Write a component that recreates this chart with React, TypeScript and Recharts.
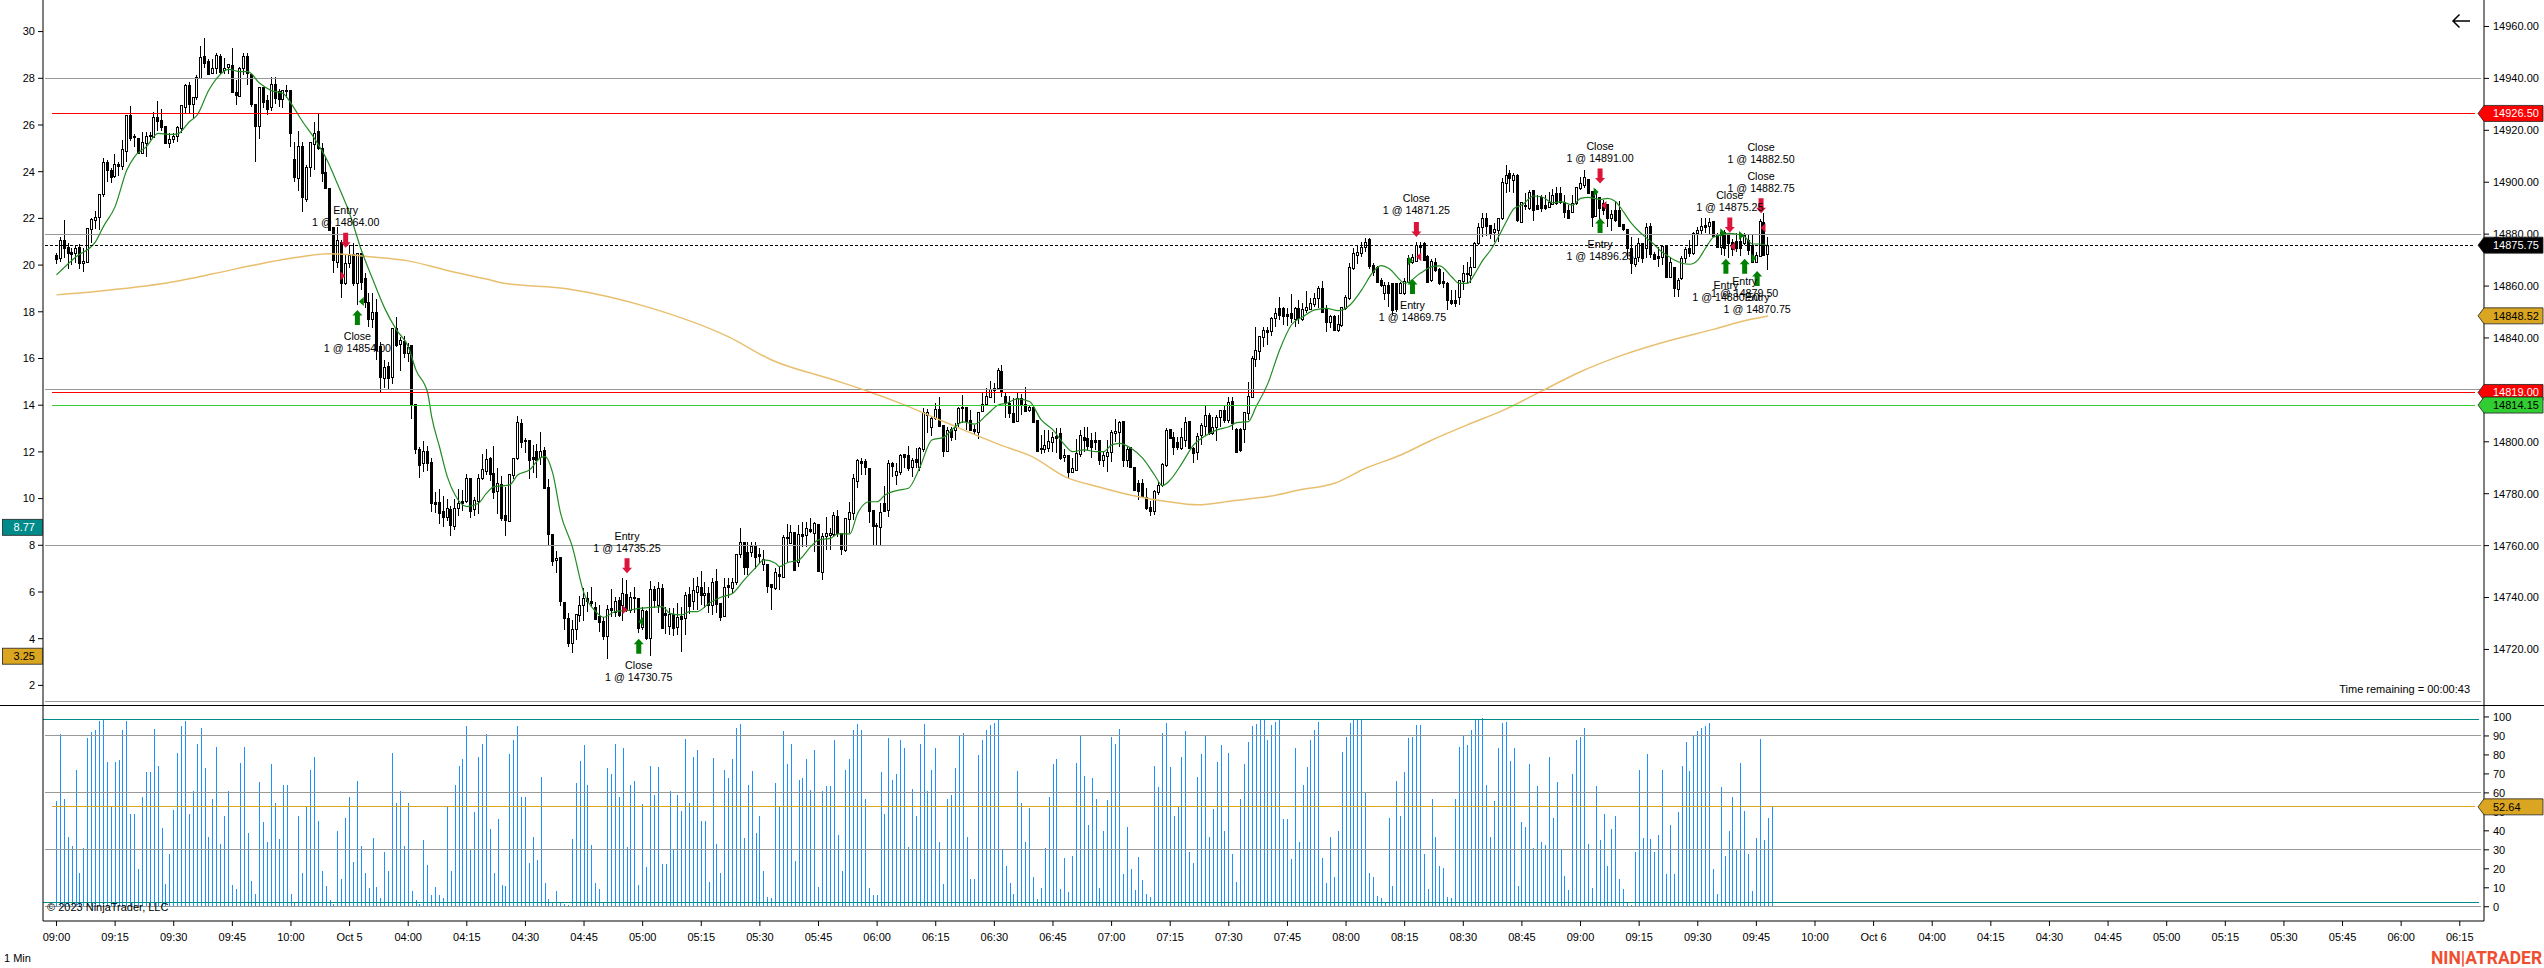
import { Bar, ComposedChart, Line, ReferenceDot, ReferenceLine, XAxis, YAxis } from "recharts";

const FONT = '"Liberation Sans", Arial, sans-serif';
const BASE_PRICE = 14700;
const BAR_DOMAIN = [-3.454, 621.2];
const PRICE_DOMAIN = [14698.6, 14970.2];
const LEFT_DOMAIN = [1.16, 31.353];
const OSC_DOMAIN = [-7.5, 106.3];

// one tuple per minute: open, high, low, close, in points above BASE_PRICE
const ohlc = [
  [171.8,172.6,168.5,170.3],[170.7,178.8,169.4,177.7],[177.7,185.5,170.7,174.5],[174.9,176.7,166.5,172.9],[173.3,174.5,168.1,172.4],
  [172.9,175.8,168.8,174.8],[175.2,176.2,166.5,168.8],[169,174.5,165.6,169.5],[169.4,182.2,168.8,182.2],[181.9,186.1,176.7,185.7],
  [185.5,189.1,181.9,186.7],[186.7,195.3,181.6,195.3],[195.3,209.2,194.2,207.7],[207.9,208.6,200.2,204.7],[204.7,205.4,199.8,202.1],
  [202.5,210.9,201.8,207],[207,207.9,202.5,206.4],[206.4,216.3,204.7,212.8],[212.2,225.9,207.9,225.9],[225.9,229.4,216,216.9],
  [217.8,218.5,213.7,217.3],[216.9,216.9,210.9,211.1],[211.4,219.2,210.9,215.6],[215.2,219.5,209.9,217.9],[218.2,219.2,216.3,217.8],
  [217.3,227.2,216.9,225.3],[225.3,231.3,219.9,223.7],[224,228.2,219.9,221.4],[221.7,221.7,214.7,215.2],[215.2,219.1,213.3,216.5],
  [216.5,218.8,215,217.8],[217.8,221.7,215.6,221.2],[220.8,229.6,219.1,229.6],[229.1,237.8,226.5,237.4],[237.4,238.5,226.5,230.1],
  [230.1,233,224.6,232.7],[232.9,241.2,231.7,240.4],[240,252.5,239.8,248.1],[248.6,255.6,243.9,246.1],[246.7,247.3,241.7,241.7],
  [241.9,247.3,241.7,243.9],[243.9,249.6,241.7,249],[248.6,249.4,241.7,242.6],[243.2,247.7,241.7,244.1],[244.5,245.4,241.7,245.4],
  [245,251.7,234.9,234.9],[234.6,239.4,229.8,233.6],[233.3,244.5,233,244.1],[244.1,249.9,241.3,248.6],[248.6,249.9,237.5,242],
  [241.7,241.7,228.9,230.1],[230.1,230.1,207.9,221.7],[221.8,236.6,216.7,236.6],[236.6,236.6,228.5,231],[231.7,233.6,225.9,228.2],
  [229,240.4,227.4,237.8],[238,240.4,230,232.3],[235.3,235.8,228.9,232],[232,235.5,228.7,235.5],[235.5,237.4,232.3,235.2],
  [235.5,235.5,213.7,219.1],[208.8,215.6,200.2,202.1],[201.8,219.7,196.8,214],[214,215.6,188.7,194.2],[193.5,206.6,192.5,205.7],
  [205.7,215.4,202.1,215.4],[214.7,223.3,204.7,219.1],[219.7,226.5,212.4,213],[213,215,200.2,203.7],[203.8,210.1,197.3,197.7],
  [197.9,197.9,181.6,181.6],[182.9,182.9,165.2,170],[169.1,182.9,167.1,177.8],[177.1,177.8,155.3,161],[161,172,160.4,168.8],
  [169,175.8,166.8,172],[172.4,176.4,160,161.3],[161.3,172.6,152.7,172.6],[172.6,172.6,158.5,161.7],[163,164.9,151.4,154],
  [154,157.2,144.4,147.2],[147.2,157.2,143.7,150.1],[149.9,155,131.5,135.4],[136.8,138.5,119.3,124.8],[124.4,131.5,120.8,128.7],
  [129.2,130.6,120.3,124.4],[124.8,143.7,122.3,143.7],[143.7,147.9,136.7,137.3],[137.6,140.5,127.4,139.2],[139,140.8,132.2,134.1],
  [134.1,138,130.6,136.7],[137.2,137.2,108.9,114.4],[114.4,114.4,95.3,97.1],[97.3,97.9,85.9,91],[91.7,100.3,88.5,96.4],
  [96.4,98.4,88.9,91.7],[92.1,93.6,73.1,76.3],[76.7,80.5,72.7,76.2],[76.7,81.8,68.3,72.7],[73.3,79.1,67.3,70.9],
  [70.9,77.8,69.6,74.4],[74.1,75.3,63.8,67.9],[67.7,77.8,66,74.4],[74.4,81.7,71.5,76.3],[77.2,81.4,73.3,76.5],
  [77.2,87.6,76.5,85.9],[85.9,85.9,70.8,73.5],[74,78.9,71.5,77.6],[77.3,87.6,72.1,85.9],[86.2,95.3,85.3,89.4],
  [88.9,97.2,87.2,93.2],[93.6,94,85,87.5],[87.8,98.4,78,80.8],[81.2,89.8,72.2,84],
  [83.7,86.8,69.6,70.5],[71.8,82.7,63.8,69.9],[69.6,87.5,69,87.5],[87.2,93.9,85.5,93.9],[93.6,109.9,93,107.7],
  [107.1,108.6,97.5,100],[100.7,101.3,95.5,100.3],[100.7,100.7,85.5,93],[94.3,98.8,87.8,93.4],[96.6,99.1,85.9,93],
  [94.3,103.8,91,96.6],[96.8,98.1,82.1,82.1],[82.5,85.5,60.2,64.3],[64.5,64.5,52.3,54.1],[54.5,57.9,49.3,55.1],
  [55.5,55.5,36.7,38.7],[38.4,38.4,27.5,32],[32,34.2,21.1,22.4],[22.6,31.3,18.5,27.8],[27.8,33.5,23.6,33.5],
  [33.3,40.6,30.7,37.1],[37.1,43.5,31.1,39.7],[39.7,42.3,34.6,38.8],[38.8,44.2,36.5,38],[36.2,38.4,31.7,31.7],
  [32.9,37.1,26.9,30.7],[31,32.6,23.6,25.2],[25.2,37.1,16.3,35.5],[35.8,43.2,32.6,35.2],[34.6,40.1,32.6,38.8],
  [39,40.1,32.6,33.3],[37.1,47.4,31,41.6],[41.2,46.8,34.6,35.2],[35.2,42.3,33.9,40.1],[39.7,44.2,33.9,40.3],
  [39.7,39.7,26.2,28.1],[28.8,36.5,27.5,35.2],[35,35.2,23.6,24.3],[24.3,46.5,17.5,43.2],[43.2,44.4,35.8,39],
  [37.1,46.1,33.9,43.5],[43.5,45.2,28.4,28.4],[33.9,36.5,25.9,33.3],[29,35.8,25.6,33.7],[33.7,35.8,25.2,28.1],
  [28.5,37.8,25.6,32.6],[32.9,36.5,19.1,31.6],[32,42.3,25.6,41],[41.4,44.2,33.7,36.9],[38.8,47.4,35.2,42.9],
  [42.3,48,35.2,44.3],[43.9,50.4,37.1,41],[41,46,36,41.8],[41.6,44.2,33.9,37.1],[37.1,47.4,33.3,46.1],
  [46.4,50.9,33.9,37.5],[37.8,38,31.1,32.6],[32.9,47.4,32.6,44.2],[44.7,47.4,40,44],[43.5,47.4,41.6,46.1],
  [46.1,56.6,44.8,56.6],[56.6,66.9,55.1,61.5],[61.5,61.5,48.7,51.9],[57.7,61.5,48.7,51.9],[57.7,61.5,55.7,59.9],
  [59.9,61.5,50.9,55.5],[56.6,58.9,52.9,56.1],[52.9,58.3,50.4,54.7],[52.9,52.9,41.9,44.4],[45.2,45.2,35.2,43.9],
  [43.5,51.3,42.9,50],[49.1,51.9,42.9,48.3],[48,64.1,47.4,63.2],[63.2,68.3,53.8,62.8],[61.1,67.9,60.9,65.1],
  [65.1,65.1,50.4,50.6],[53.8,67.9,51.9,64.5],[64.5,69.2,59.6,63.8],[64.1,69.2,59.6,66.7],[66.4,70.5,64.7,65.8],
  [65,69.2,57.7,68.6],[68.3,68.3,50.4,50.4],[50,64.7,46.8,63.8],[63.8,71.2,58.3,64.7],[64.1,66.7,58.3,64.7],
  [64.5,73.1,63.4,71.8],[71.4,73.7,63.4,64.7],[64.7,64.7,56.4,58.6],[58.3,70.5,57.7,70.5],[70.1,76.9,64.7,73.1],
  [72.7,87.6,69.9,85.9],[85,93.5,82.1,93],[92.7,93.6,87.2,91.9],[92.6,93.2,87.2,90.2],[89.8,89.8,68.6,73.3],
  [73.7,73.7,60,67.7],[67.9,68.6,60,67.4],[67.3,76.3,60.2,73.1],[76.3,83.1,73.3,73.3],[73.7,93,71.2,91.7],
  [91.7,92.3,86.6,90.7],[87.2,91.7,83.4,88.7],[88.5,95.2,87.2,94.9],[95.2,95.2,89.8,94.3],[94.9,98.4,88.9,90],
  [90.2,93.6,86.6,93],[93.2,97.5,89.8,92.3],[90.2,97.9,88.7,97.5],[97.1,112.9,96.2,111.6],[110.3,112.5,103.3,111.6],
  [105.8,109.7,102.2,109],[109,115,108.4,112.5],[112.5,117.1,106.1,106.1],[106.5,106.5,94.3,96.6],[96.6,105.8,96.2,104.5],
  [104.8,105.8,100.4,101.9],[104.5,107.1,100.7,105.8],[107.1,113.5,105.8,112.9],[113.5,118,107.1,112.9],[113.3,113.3,104.5,108.1],
  [108.4,112.2,104.5,104.5],[104.9,106.5,102.6,104.3],[103.9,111.6,100.9,111.6],[111.9,118.7,111.9,114.4],[114.4,120.6,114.4,117.8],
  [117.4,123.5,116.7,120.2],[120.6,122.5,114.8,119.9],[120.6,128.3,119.9,127.6],
  [127.3,129.6,117.4,119.1],[117.7,119.3,109.1,115.1],[114.8,117.7,109.1,111],[111,116.8,107.5,107.5],[108.2,118.7,107.8,116.8],
  [116.8,118.4,110.3,114.6],[114.6,121,112,112],[112.3,114.2,111.6,113.3],[113.5,113.5,107.4,107.8],[108.4,108.4,96.2,96.5],
  [97.8,102.6,95.3,97.3],[97.2,104.6,95.8,98.8],[97.8,104.6,96.2,100.3],[100.1,103.9,96.2,102],[102.3,105.2,95.6,101.6],
  [103.3,105.2,92.8,93.9],[94,97.1,92.4,95],[95,95,85.6,88.5],[88.5,93.6,87.9,89.8],[89.2,101,88.9,95.6],
  [95.3,104.6,94.3,102.6],[101.7,105.8,96.2,100.5],[101.4,105.8,96.9,98.4],[100.7,103.3,93.7,98.1],[100.7,103.9,96.9,100.1],
  [100.5,100.5,91.1,92.8],[92.8,96.2,90.4,95],[94.7,100.5,88.5,96.2],[96.2,104.6,92.4,103.9],[103.5,108.7,100.1,104.2],
  [103.9,108.2,98.1,107.5],[108,108,90.4,93],[92.8,98.1,90.4,97.2],[98.1,98.1,89.8,90.2],[90.2,90.4,81.2,81.5],
  [84,85.3,77.6,81.2],[84,85.6,78.2,79.1],[78.9,82.1,73.7,74.4],[75,77,71.4,73.5],[73.5,81.5,71.8,81.2],
  [80.8,84.7,79.5,83.4],[83.4,91.7,82.7,91.5],[91.1,105.2,90.4,104.6],[104.8,104.8,101,101.4],[102,103.9,95,97.9],
  [100.1,102,96.9,97.9],[97.5,105.2,96.9,101.7],[100.7,109.4,98.1,107.8],[108,108,97.5,97.5],[97.5,98.1,91.7,95.6],
  [96.2,103.3,93,102.4],[102.6,107.1,98.8,106.5],[106.2,114.2,102.4,110.3],[110.3,110.9,102.6,103.5],[103.3,109.7,102.6,105.6],
  [105.6,110.3,100.4,109.7],[109.7,112.3,105.8,112.3],[112.3,114.2,107.1,108.4],[108.4,117.2,107.1,115.5],[115.7,117.4,104.6,107.1],
  [104.9,105.2,95.8,96.2],[104.9,105.2,96.2,96.9],[104.8,111.4,99.4,111.4],[111,123.2,108.4,117.8],[117.4,133.1,116.8,132.4],
  [131.8,144.1,128.9,135.4],[135.1,140.8,131.5,140.8],[140.3,144.1,136.4,143.1],[143.1,144.1,137.1,142.2],[142.8,148,140.8,147.6],
  [147.6,151.4,144.1,149.8],[151.4,155.9,147,148.9],[151.4,151.8,145,148.6],[149.1,151.4,144.6,148.6],[149.5,156.9,145.7,147.6],
  [147.3,152,144.1,151.4],[151.4,154.6,145.4,147.6],[147.2,153.4,146.7,151],[150.8,158.2,149.5,152.1],[151,155.3,150.8,153.6],
  [153.1,157.2,152.1,155.5],[155.3,160,151.4,159.1],[159.4,161.9,150.1,150.1],[151.4,152.7,142.4,146],[146,148.9,143.7,148.5],
  [148.5,148.9,142.7,143.1],[143.1,148.9,142.4,145.4],[145,152.1,144.4,152.1],[151.4,156.6,150.8,155.9],[155.3,169,154.6,167.2],
  [166.8,174.5,166.2,172.6],[172,175.8,168.5,173.3],[172.6,177,171.3,175],[175,178.5,173,177],[178,178.5,166.7,167.7],
  [168,169,164,165.5],[167.5,167.7,161,161.7],[162.3,163,159.8,160.4],[157.5,161.7,154.6,160.4],[160.4,161.7,152.1,157.5],
  [161.3,161.3,148.9,150.8],[161,161.3,150,151],[157.5,161.7,157.2,161],[157.5,163,156.6,162],[161.7,171.9,161,170.7],
  [169.4,172.4,168.5,171.3],[169.8,177.1,169.4,175.8],[176,177.1,172,175.2],[176.4,177.1,169.8,170],[171.6,171.9,161.3,161.7],
  [162.3,170.5,161.7,169.6],[169.4,170.8,165.5,166.2],[166.4,167,160.5,161],[161.9,165.5,159.1,161],[161.3,161.7,150.8,154.6],
  [154.6,158.5,152.7,153.6],[154.6,158.5,152,153.3],[155.9,162.3,152.7,162.3],[162.1,168.1,158.5,164.9],[164.9,169.4,161,164.5],
  [164.2,171,161,167.5],[167.5,177.1,166.8,176.7],[176.4,184.2,175.8,182.9],[182.9,188,178.8,186.1],[186.1,188,179.3,183.1],
  [183.5,183.5,178,180.3],[180.9,184.2,177.1,182],[181.6,186.1,177.1,186.1],[186.1,201.7,185.4,200.2],[199.6,206.6,196,202.8],
  [203.4,204.7,196.3,201.5],[200.8,203.4,195.7,202.8],[202.8,203,184.8,185.4],[184.8,192.5,184.4,192.5],[190.8,195.7,189.3,191.2],
  [189.9,197,189.3,196.3],[197,197,185.2,189.3],[191.2,195.1,189.3,189.5],[194.4,195.1,188.6,189.9],[191.2,195.1,189.3,189.9],
  [190.3,196.3,189.9,192.5],[191.8,197.2,191.2,195.1],[195.7,198.3,191.2,192.1],[195.7,198,191.6,192.5],[192.5,195.1,186.1,188.6],
  [189.3,191.2,185.7,186.1],[188.6,195.1,188,191.9],[191.9,198.3,191.2,198],[197.6,202.1,197,199.6],[198.9,204.7,197.6,201.9],
  [201.1,201.1,195.7,196],[196.7,196.7,182.9,186.7],[187,197.2,186.5,195.7],[194.4,194.4,183.9,189.9],[191.9,193.1,187.4,189.3],
  [191.6,191.6,182.9,186.1],[186.1,189.3,181.3,187.6],[189.3,192.8,184.8,185.4],[189.3,192.8,182.6,183.3],[183.8,183.8,181.3,182],
  [182,182,170.3,174.5],[174.5,179,164.6,168.7],[168.5,175.8,167.5,170.9],[171.3,178.4,169.4,176.4],[176.4,176.4,168.7,170.7],
  [174.5,184.2,170.7,182.9],[183.1,184.2,170.7,172.3],[172.3,173.3,170,170.3],[171.6,175.2,167.5,170.7],[171.3,175.8,168.1,175.4],
  [175.8,175.8,163.6,163.6],[163.6,171.3,163,169.4],[167.5,167.5,155.6,159.2],[158.9,163,155.6,162.4],[163,171.4,162.4,170.7],
  [170.7,175.2,168.8,174.3],[174.6,177.8,171.1,172.9],[172.9,181,172,180.3],[180.6,182.9,175.9,181.6],[181.6,186.1,179.7,183.2],
  [183.6,186.1,180.3,182.9],[183.2,186.1,179.7,184.8],[185.1,185.1,179.1,179.1],[179.7,180.3,174.6,175.2],[175.2,181.6,172,181],
  [181,181.6,171.4,174.6],[179.7,180.3,170.7,176.5],[177.1,178,171.5,174.2],[177.5,180.3,173.3,174.6],[177.5,180.3,171.4,174.6],
  [176.5,180.3,175.9,179.7],[177.8,179.7,172,173.9],[175.9,179.7,168.8,169.4],[169.4,173.3,168.8,172],[171.6,185.7,171.4,185.2],
  [184.8,188,171.4,172],[172.4,179,166,175.75],
];

// lower panel oscillator, one value per minute
const oscillator = [
  55.5,91,57,37,32,72,18,31,89,92,93,98,99,76.5,52.5,76.5,77.5,93,98,48.7,48.7,20,57.6,70.8,70.8,93.9,73.9,41.3,12,28,
  50.8,81,95.4,98,48.7,61,86,94,72.9,37,57,84,33,47.6,61,11.4,9.3,76,84.4,39,13.5,6.7,65.5,44.5,34,75,54.5,35.5,64.4,64.4,
  6.7,2.5,48,18,52.5,71.8,79,45,19,10.9,3.5,1.4,39.8,14.5,46.6,58,23.5,66.5,32,17.7,9.8,36,10.3,4.5,29,18.7,81,54.5,61,32,
  54.5,8.2,3.5,1.4,35,22,6,10.3,6,4.5,52.5,18.7,64.4,73.9,78,95.4,30,49.7,79,85.5,91,40.8,18,46,
  11.4,10.9,80.7,87.6,95.4,57.6,57.6,23,36.6,24.5,68.6,12.4,4,2,8.2,2,1.4,0.9,35.6,65,77,85,64.4,32.4,12.4,9.3,2,72.9,70.2,85.5,
  57.6,83.9,31.3,64.4,66.5,11.4,54,20.8,74.4,58.7,73.4,22.4,22.4,60.8,30,58.7,50.3,88.6,54.5,79,82.8,45,45,13,78.6,33,17.7,71.8,68,77.6,
  94.4,96.5,36,64,71.3,38.7,48,18.7,5,4.5,65,52.5,92.8,75,86,24,67,68,77.6,61.3,82.8,10.3,60.8,63.4,63.4,88,38,18.7,72,78,
  93.3,96.5,93.3,56.6,9.8,6,6,70.8,48.7,89,67,70,87.6,83.4,31.3,62.3,48,85.5,96.5,60.8,72,83.9,34,12,56.6,59,72.9,90.7,91.8,36.6,
  14.5,14.5,79.7,88,93.3,96,97,99,
  29.8,21.4,12.4,6.7,71.3,54.5,34,51.8,15.6,4,9.8,30.8,58,75,78,9.3,25.6,7.7,27,75.5,90,69,43,67.6,56.6,9.8,39.8,56,89.7,85.5,
  93.9,17,41.9,19.8,8.8,26,14,6.7,5,74.4,62.9,91.8,97,73.4,48,52.5,79,92.8,29,23,68.6,80.7,90,36.6,51.3,76.5,85,39.8,81,27.7,
  13,56.6,75,87,95.4,96.5,98.6,98.6,88,96,97.5,98.6,46,46,25,83.9,34,64.4,73.4,87.6,93.3,97.5,25.6,12.4,37,15.6,39.8,81.8,89.7,97,
  98.6,98.6,99,59.7,18,15.6,5.6,4.5,2,46.6,10.9,66,47.6,70.8,89,89.7,96,96,28,9.3,57,37,21.4,20.3,5,4.5,57,84.4,90.7,85,
  93.3,98.6,99,99.6,64,37,55.5,83.9,
  97,97.5,77,83.9,10.9,44.5,41.9,75,30.8,63.4,34,32.4,79,46.6,65.5,30,16,8.8,69.7,88,89.7,94.4,33,9.8,63.4,35,48.7,21.4,40.8,48,
  14.5,9.3,2,0.9,29,72,36,80.7,35.6,29,37.7,71.8,17,43,17,49.7,74.4,87,71.3,90.7,92.8,94.4,95.4,97,19.8,6.7,62.9,26.6,39.8,58,
  30,76,50.3,28,8.2,36,88.6,35,47,52.6,
];

// fast moving average read at these minutes
const fastMaBars = [
  0,5,10,12,15,18,20,23,26,29,31,34,36,39,41,44,47,49,52,55,58,60,63,66,69,72,75,78,81,84,87,90,92,95,96,98,100,102,105,108,110,112,
  114,116,118,121,124,125,127,129,132,135,138,140,143,146,149,152,155,157,160,162,164,167,170,173,176,179,181,184,185,187,190,193,195,198,200,203,205,208,210,212,215,218,221,224,227,230,232,235,238,241,
  243,246,249,252,255,258,260,263,266,268,270,272,275,278,281,283,285,288,291,294,297,300,302,305,307,310,313,316,319,322,325,328,331,334,337,339,341,344,
  345,349,352,354,357,359,361,363,365,367,369,371,373,375,378,380,383,385,388,390,392,395,397,399,401,403,405,407,409,411,412,414,416,418,420,422,424,426,428,430,432,434,436,438,
];
const fastMaValues = [
  164.3,171.3,177.1,182.9,190.6,204.7,209.9,213.7,218.8,218.4,218.6,223.3,225.9,235.5,240,243.5,242.6,242.6,238.1,235.3,234.2,230.4,223.3,216.9,209.2,199,188,173.9,162.3,151.4,143.1,136.7,127.6,118.7,109.7,98.1,86.6,79.5,75,76.3,80.1,82.7,
  83,83.4,87.2,89.1,94,94.3,87.8,72.4,59.6,41.6,34.6,32.4,34.6,35,35.8,36.2,36.5,33.9,33.3,34.6,34.6,37.8,40.1,41.6,46.8,51.6,54.5,53.2,51.9,53.4,54.5,59.6,62.2,62.8,64.5,64.5,72.4,76.9,76.9,79.5,81.2,82.1,90.4,100.7,101.7,105.8,107.7,106.8,110.3,114.2,
  114.8,116.5,115.5,108.4,104.6,98.8,96.2,96.9,96.2,96.2,98.8,99.4,97.5,93.6,87.2,83.1,85.3,91.7,98.8,102.3,104.6,105.8,107.4,107.8,113.6,122.5,135.4,145,148.2,150.8,151.4,150.5,152.7,158.5,165.6,167.9,166.8,162.1,
  161,164.9,167.5,167.8,163.6,161,161,164.9,170,173.9,179,184.8,189.9,191.2,194.7,194.4,192.1,192.5,191.2,193.8,194.2,193.4,193.8,192.5,188.6,184.2,181,178.4,175.8,172.9,172,170,168.8,168.4,170,174.6,178.8,179.7,180.3,180,179,176.2,176.2,175.5,
];

// slow moving average read at these minutes
const slowMaBars = [0,10,20,30,40,50,60,70,80,90,100,110,114,131,152,172,183,199,208,216,227,241,250,258,267,276,284,292,301,310,318,327,335,344,352,361,370,380,390,400,414,424,433,438];
const slowMaValues = [156.6,157.9,159.5,161.7,164.7,167.9,170.7,172.4,171.3,169.7,166,162.7,161.2,158.9,151.6,140.4,131.5,123.8,119.3,114.8,107.8,99.1,94,86.6,82.5,79.1,77,75.7,77.3,78.9,81.4,84,89.8,94.9,100.7,106.5,112,119.5,127,133,139.5,143.3,147,148.5];

const xLabels = [
  "09:00","09:15","09:30","09:45","10:00","Oct 5","04:00","04:15","04:30","04:45","05:00","05:15","05:30","05:45",
  "06:00","06:15","06:30","06:45","07:00","07:15","07:30","07:45","08:00","08:15","08:30","08:45","09:00","09:15",
  "09:30","09:45","10:00","Oct 6","04:00","04:15","04:30","04:45","05:00","05:15","05:30","05:45","06:00","06:15",
];
const leftTicks = [2,4,6,8,10,12,14,16,18,20,22,24,26,28,30];
const priceTicks = [14720,14740,14760,14780,14800,14820,14840,14860,14880,14900,14920,14940,14960];
const oscTicks = [0,10,20,30,40,50,60,70,80,90,100];
const priceGrid = [14940,14880,14820,14760,14700];
const oscGrid = [90,60,30,0];
const oscBands = [98.8,2.1];

const RED = "#dc143c";
const GREEN = "#008000";

// bar, price at the middle of the two text lines, title, fill
const tradeLabels = [
  [74,14887,"Entry","1 @ 14864.00"],[77,14838.5,"Close","1 @ 14854.00"],
  [146,14761.4,"Entry","1 @ 14735.25"],[149,14711.7,"Close","1 @ 14730.75"],
  [347,14850.4,"Entry","1 @ 14869.75"],[348,14891.6,"Close","1 @ 14871.25"],
  [395,14911.7,"Close","1 @ 14891.00"],[395,14873.9,"Entry","1 @ 14896.25"],
  [436.2,14911.3,"Close","1 @ 14882.50"],[436.2,14900.1,"Close","1 @ 14882.75"],[428.2,14892.8,"Close","1 @ 14875.25"],
  [427.2,14858.1,"Entry","1 @ 14880.50"],[432,14859.7,"Entry","1 @ 14879.50"],[435.2,14853.5,"Entry","1 @ 14870.75"],
];
const tradeArrows = [
  [74,14877.6,"down"],[77,14847.9,"up"],[146,14752.2,"down"],[149,14721.2,"up"],
  [347,14859.8,"up"],[348,14881.8,"down"],[395,14902.4,"down"],[395,14883.3,"up"],
  [428.2,14883.5,"down"],[436.2,14890.9,"down"],[427.2,14867.6,"up"],[432,14867.6,"up"],[435.2,14862.9,"up"],
];
const tradeFills = [
  [73.3,14864,"right",RED],[78,14854,"left",GREEN],[145.5,14735.25,"right",RED],[149.5,14730.75,"left",GREEN],
  [346.5,14869.75,"right",GREEN],[348.6,14871.25,"left",RED],[394,14896.25,"right",GREEN],[396,14891,"left",RED],
  [426.4,14880.5,"right",GREEN],[428.9,14875.25,"left",RED],[431.2,14879.5,"right",GREEN],[434.4,14870.75,"right",GREEN],[436.7,14882.5,"left",RED],
];

const priceTags = [
  [14926.5,"14926.50","#ff0000","#fff"],
  [14875.75,"14875.75","#000","#fff"],
  [14848.52,"14848.52","#daa520","#000"],
  [14819,"14819.00","#ff0000","#fff"],
  [14814.15,"14814.15","#32cd32","#000"],
];
const leftTags = [
  [8.77,"8.77","#008b8b","#fff"],
  [3.25,"3.25","#daa520","#000"],
];

const candles = ohlc.map(([o, h, l, c], i) => ({
  bar: i,
  range: [BASE_PRICE + l, BASE_PRICE + h],
  open: BASE_PRICE + o,
  close: BASE_PRICE + c,
  high: BASE_PRICE + h,
  low: BASE_PRICE + l,
}));
const oscData = oscillator.map((v, i) => ({ bar: i, value: v }));
const fastMa = fastMaBars.map((b, i) => ({ bar: b, value: BASE_PRICE + fastMaValues[i] }));
const slowMa = slowMaBars.map((b, i) => ({ bar: b, value: BASE_PRICE + slowMaValues[i] }));

function Candle(props: any) {
  const { x, y, width, height, payload } = props;
  const px = Math.floor(x + width / 2);
  const perPoint = payload.high > payload.low ? height / (payload.high - payload.low) : 0;
  const yOf = (p: number) => y + (payload.high - p) * perPoint;
  const top = Math.round(yOf(Math.max(payload.open, payload.close)));
  const bottom = Math.round(yOf(Math.min(payload.open, payload.close)));
  const up = payload.close >= payload.open;
  return (
    <g shapeRendering="crispEdges">
      <line x1={px + 0.5} x2={px + 0.5} y1={y} y2={y + height} stroke="#000" />
      <rect x={px - 1 + 0.5} y={top + 0.5} width={2} height={Math.max(bottom - top, 1)} fill={up ? "#fff" : "#000"} stroke="#000" />
    </g>
  );
}

function OscStem(props: any) {
  const { x, y, width, height } = props;
  return <rect x={Math.floor(x + width / 2)} y={y} width={1} height={height} fill="#1e90ff" shapeRendering="crispEdges" />;
}

function RightTag({ cx, cy, fill, color, text }: any) {
  const points = `${cx - 6},${cy} ${cx},${cy - 8} ${cx + 59},${cy - 8} ${cx + 59},${cy + 8} ${cx},${cy + 8}`;
  return (
    <g>
      <polygon points={points} fill={fill} stroke="#222" strokeWidth={0.8} />
      <text x={cx + 9} y={cy + 4} fill={color} fontSize={11} fontFamily={FONT}>{text}</text>
    </g>
  );
}

function LeftTag({ cx, cy, fill, color, text }: any) {
  return (
    <g>
      <rect x={cx - 40.5} y={cy - 8} width={40} height={16} fill={fill} stroke="#222" strokeWidth={0.8} />
      <text x={cx - 8} y={cy + 4} textAnchor="end" fill={color} fontSize={11} fontFamily={FONT}>{text}</text>
    </g>
  );
}

function TradeText({ cx, cy, title, detail }: any) {
  return (
    <g fontSize={10.7} fontFamily={FONT} fill="#000" textAnchor="middle">
      <text x={cx} y={cy - 2}>{title}</text>
      <text x={cx} y={cy + 10}>{detail}</text>
    </g>
  );
}

function TradeArrow({ cx, cy, dir }: any) {
  const s = dir === "down" ? 1 : -1;
  const d = `M${cx - 2.5},${cy - 7.5 * s} L${cx + 2.5},${cy - 7.5 * s} L${cx + 2.5},${cy + 2 * s} L${cx + 5},${cy + 2 * s} L${cx},${cy + 7.5 * s} L${cx - 5},${cy + 2 * s} L${cx - 2.5},${cy + 2 * s} Z`;
  return <path d={d} fill={dir === "down" ? RED : GREEN} />;
}

function FillMark({ cx, cy, dir, fill }: any) {
  const s = dir === "right" ? 1 : -1;
  return <polygon points={`${cx - 2.5 * s},${cy - 4.5} ${cx + 2.5 * s},${cy} ${cx - 2.5 * s},${cy + 4.5}`} fill={fill} />;
}

const tickStyle = { fontSize: 11, fontFamily: FONT, fill: "#000" };
const axisLine = { stroke: "#000", strokeWidth: 1 };
const tickLine = { stroke: "#000", strokeWidth: 1 };

function level(price: number, stroke: string, from: number, to: number, axis: string, extra?: any) {
  return (
    <ReferenceLine
      key={`${stroke}-${price}`}
      yAxisId={axis}
      segment={[{ x: from, y: price }, { x: to, y: price }]}
      stroke={stroke}
      strokeWidth={1}
      shapeRendering="crispEdges"
      ifOverflow="visible"
      {...extra}
    />
  );
}

function PriceChart() {
  return (
    <ComposedChart width={2544} height={705} data={candles} margin={{ top: 0, right: 0, bottom: 0, left: 0 }}>
      <XAxis dataKey="bar" type="number" domain={BAR_DOMAIN} hide allowDataOverflow />
      <YAxis
        yAxisId="left"
        orientation="left"
        width={43}
        domain={LEFT_DOMAIN}
        ticks={leftTicks}
        interval={0}
        tick={tickStyle}
        tickSize={5}
        tickMargin={3}
        axisLine={axisLine}
        tickLine={tickLine}
        allowDataOverflow
      />
      <YAxis
        yAxisId="price"
        orientation="right"
        width={60}
        domain={PRICE_DOMAIN}
        ticks={priceTicks}
        interval={0}
        tickFormatter={(v: number) => v.toFixed(2)}
        tick={tickStyle}
        tickSize={5}
        tickMargin={4}
        axisLine={axisLine}
        tickLine={tickLine}
        allowDataOverflow
      />
      {priceGrid.map((p) => level(p, "#999999", -3, 620.5, "price"))}
      <Bar yAxisId="price" dataKey="range" barSize={4} shape={<Candle />} isAnimationActive={false} />
      <Line yAxisId="price" data={slowMa} dataKey="value" type="monotone" stroke="#e8bf6e" strokeWidth={1.5} dot={false} activeDot={false} isAnimationActive={false} />
      <Line yAxisId="price" data={fastMa} dataKey="value" type="monotone" stroke="#228b22" strokeWidth={1.2} dot={false} activeDot={false} isAnimationActive={false} />
      {level(14926.5, "#ff0000", -1.15, 619, "price")}
      {level(14819, "#ff0000", -1.15, 619, "price")}
      {level(14814.15, "#32cd32", -1.15, 619, "price")}
      {level(14875.75, "#000000", -3, 619, "price", { strokeDasharray: "3 2" })}
      {tradeFills.map(([b, p, dir, fill], i) => (
        <ReferenceDot key={`f${i}`} yAxisId="price" x={b as number} y={p as number} r={1} shape={(s: any) => <FillMark {...s} dir={dir} fill={fill} />} />
      ))}
      {tradeArrows.map(([b, p, dir], i) => (
        <ReferenceDot key={`a${i}`} yAxisId="price" x={b as number} y={p as number} r={1} shape={(s: any) => <TradeArrow {...s} dir={dir} />} />
      ))}
      {tradeLabels.map(([b, p, title, detail], i) => (
        <ReferenceDot key={`t${i}`} yAxisId="price" x={b as number} y={p as number} r={1} shape={(s: any) => <TradeText {...s} title={title} detail={detail} />} />
      ))}
    </ComposedChart>
  );
}

// the tags sit over the axis lines and tick labels, so they get their own layer
function PriceTagLayer() {
  return (
    <ComposedChart width={2544} height={705} data={candles} margin={{ top: 0, right: 60, bottom: 0, left: 43 }}>
      <XAxis dataKey="bar" type="number" domain={BAR_DOMAIN} hide allowDataOverflow />
      <YAxis yAxisId="left" domain={LEFT_DOMAIN} hide allowDataOverflow />
      <YAxis yAxisId="price" domain={PRICE_DOMAIN} hide allowDataOverflow />
      {priceTags.map(([p, text, fill, color]) => (
        <ReferenceDot key={text as string} yAxisId="price" x={BAR_DOMAIN[1]} y={p as number} r={1} ifOverflow="visible" shape={(s: any) => <RightTag {...s} fill={fill} color={color} text={text} />} />
      ))}
      {leftTags.map(([v, text, fill, color]) => (
        <ReferenceDot key={text as string} yAxisId="left" x={BAR_DOMAIN[0]} y={v as number} r={1} ifOverflow="visible" shape={(s: any) => <LeftTag {...s} fill={fill} color={color} text={text} />} />
      ))}
    </ComposedChart>
  );
}

function OscChart() {
  return (
    <ComposedChart width={2544} height={263} data={oscData} margin={{ top: 0, right: 0, bottom: 0, left: 0 }}>
      <XAxis
        dataKey="bar"
        type="number"
        domain={BAR_DOMAIN}
        height={47}
        ticks={xLabels.map((_, i) => i * 15)}
        interval={0}
        tickFormatter={(v: number) => xLabels[v / 15]}
        tick={tickStyle}
        tickSize={5}
        tickMargin={7}
        axisLine={axisLine}
        tickLine={tickLine}
        allowDataOverflow
      />
      <YAxis yAxisId="blank" orientation="left" width={43} domain={[0, 1]} tick={false} tickLine={false} axisLine={axisLine} />
      <YAxis
        yAxisId="osc"
        orientation="right"
        width={60}
        domain={OSC_DOMAIN}
        ticks={oscTicks}
        interval={0}
        tick={tickStyle}
        tickSize={5}
        tickMargin={4}
        axisLine={axisLine}
        tickLine={tickLine}
        allowDataOverflow
      />
      <Bar yAxisId="osc" dataKey="value" barSize={2} shape={<OscStem />} isAnimationActive={false} />
      {oscGrid.map((v) => level(v, "#999999", -3, 620.5, "osc"))}
      {oscBands.map((v) => level(v, "#008b8b", -3.4, 620, "osc"))}
      {level(52.64, "#daa520", -1.15, 619, "osc")}
    </ComposedChart>
  );
}

function OscTagLayer() {
  return (
    <ComposedChart width={2544} height={263} data={oscData} margin={{ top: 0, right: 60, bottom: 47, left: 43 }}>
      <XAxis dataKey="bar" type="number" domain={BAR_DOMAIN} hide allowDataOverflow />
      <YAxis yAxisId="osc" domain={OSC_DOMAIN} hide allowDataOverflow />
      <ReferenceDot yAxisId="osc" x={BAR_DOMAIN[1]} y={52.64} r={1} ifOverflow="visible" shape={(s: any) => <RightTag {...s} fill="#daa520" color="#000" text="52.64" />} />
    </ComposedChart>
  );
}

const noteStyle: any = { position: "absolute", font: `11px ${FONT}`, color: "#000", lineHeight: "12px", whiteSpace: "nowrap" };
const layerStyle: any = { position: "absolute", left: 0, top: 0 };
const lowerStyle: any = { position: "absolute", left: 0, top: 705 };

export default function App() {
  return (
    <div style={{ position: "absolute", left: 0, top: 0, width: 2544, height: 968, background: "#fff", overflow: "hidden" }}>
      <div style={layerStyle}><PriceChart /></div>
      <div style={lowerStyle}><OscChart /></div>
      <div style={{ position: "absolute", left: 0, top: 705, width: 2544, height: 1, background: "#000" }} />
      <div style={layerStyle}><PriceTagLayer /></div>
      <div style={lowerStyle}><OscTagLayer /></div>
      <svg style={{ position: "absolute", left: 2450, top: 12 }} width={22} height={18}>
        <path d="M20,9 L3,9 M9.5,2.5 L3,9 L9.5,15.5" fill="none" stroke="#000" strokeWidth={1.5} />
      </svg>
      <div style={{ ...noteStyle, right: 74, top: 683 }}>Time remaining = 00:00:43</div>
      <div style={{ ...noteStyle, left: 47, top: 901 }}>© 2023 NinjaTrader, LLC</div>
      <div style={{ ...noteStyle, left: 4, top: 952 }}>1 Min</div>
      <div style={{ position: "absolute", left: 2431, top: 947, font: `700 17.5px Roboto, sans-serif`, color: "#f04e30", lineHeight: "22px", whiteSpace: "nowrap" }}>NIN|ATRADER</div>
    </div>
  );
}
